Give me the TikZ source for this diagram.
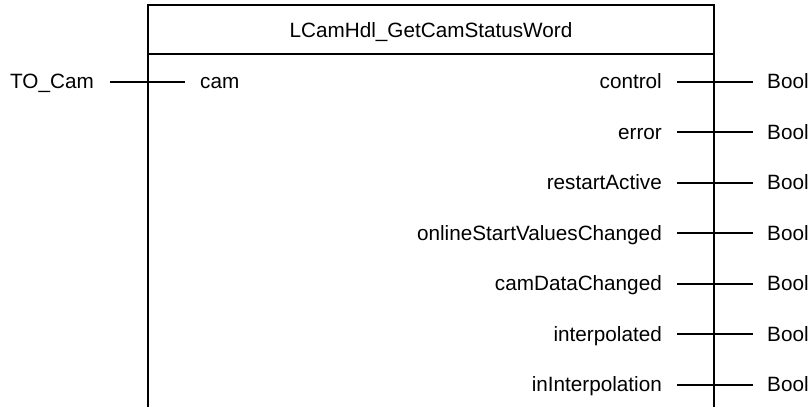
\documentclass[tikz,border=0pt]{standalone}
\usepackage{fontspec}
\setmainfont{Liberation Sans}
\begin{document}
\begin{tikzpicture}[x=1pt,y=-1pt,
  lbl/.style={inner sep=0pt,font=\fontsize{20.7}{24}\selectfont},
  boxline/.style={line width=2.8pt},
  pin/.style={line width=2pt}]
\useasboundingbox (0,0) rectangle (811,407);
% block outline (open at the bottom)
\coordinate (bl) at (148,407);
\coordinate (tl) at (148,5);
\coordinate (tr) at (714,5);
\coordinate (br) at (714,407);
\coordinate (dl) at (148,54);
\coordinate (dr) at (714,54);
\draw[boxline] (bl) -- (tl) -- (tr) -- (br);
\draw[boxline] (dl) -- (dr);
\node[lbl,anchor=base] (title) at (431,37.5) {LCamHdl\_GetCamStatusWord};
% input
\node[lbl,anchor=base east] (tocam) at (94,88.8) {TO\_Cam};
\node[lbl,anchor=base west] (cam) at (200,88.8) {cam};
\coordinate (inA) at (110,81.5);
\coordinate (inB) at (185,81.5);
\draw[pin] (inA) -- (inB);
% outputs
\foreach \i/\t in {0/control,1/error,2/restartActive,3/onlineStartValuesChanged,4/camDataChanged,5/interpolated,6/inInterpolation}{
  \pgfmathsetmacro{\yy}{81.5+50.5*\i}
  \node[lbl,anchor=base east] (out\i) at (662,\yy+7.3) {\t};
  \node[lbl,anchor=base west] (typ\i) at (767,\yy+7.3) {Bool};
  \coordinate (oA\i) at (677,\yy);
  \coordinate (oB\i) at (753,\yy);
  \draw[pin] (oA\i) -- (oB\i);
}
\end{tikzpicture}
\end{document}
